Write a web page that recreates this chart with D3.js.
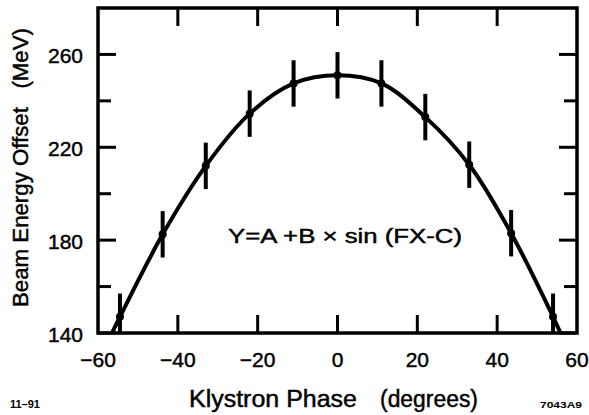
<!DOCTYPE html>
<html><head><meta charset="utf-8">
<script src="https://cdn.jsdelivr.net/npm/d3@7"></script>
<style>body{margin:0;background:#fff}svg{display:block}text{font-family:"Liberation Sans",Arial,Helvetica,sans-serif;fill:#000;stroke:#000;stroke-width:0.45px}</style>
</head><body><svg id="c" width="589" height="415"></svg>
<script>
// Data
const phase = [-54.5, -43.8, -33, -22, -11, 0, 11, 22, 33, 43.5, 54];
const energy = [147, 182.5, 212, 234.5, 247.5, 251, 247.5, 233, 212.5, 183, 147];
const errHalf = [10, 10, 10, 10, 10, 10, 10, 10, 10, 10, 10];
const curvePhase = [-56.5, -54.5, -43.8, -33, -22, -11, 0, 11, 22, 33, 43.5, 54, 56];
const curveEnergy = [140, 147, 182.5, 212, 234.5, 247.5, 251, 247.5, 233, 212.5, 183, 147, 139.5];
const xTicks = [-60, -40, -20, 0, 20, 40, 60];
const yMajor = [140, 180, 220, 260];
const yMinor = [160, 200, 240];
const formulaLabel = "Y=A +B \u00d7 sin (FX-C)";
const xTitleA = "Klystron Phase";
const xTitleB = "(degrees)";
const yTitle = "Beam Energy Offset\u00a0\u00a0\u00a0(MeV)";

const svg = d3.select("#c");
const L = 98, R = 577, T = 8, B = 333;
const x = d3.scaleLinear().domain([-60, 60]).range([L, R]);
const y = d3.scaleLinear().domain([140, 280]).range([B, T]);

svg.append("defs").append("clipPath").attr("id","clip")
  .append("rect").attr("x",L).attr("y",T).attr("width",R-L).attr("height",B-T);

const g = svg.append("g");
const tk = g.append("g").attr("stroke","#000").attr("stroke-width",3);
xTicks.slice(1,-1).forEach(v=>{
  tk.append("line").attr("x1",x(v)).attr("x2",x(v)).attr("y1",B).attr("y2",B-18);
  tk.append("line").attr("x1",x(v)).attr("x2",x(v)).attr("y1",T).attr("y2",T+18);
});
yMajor.concat(yMinor).forEach(v=>{
  const len = yMajor.includes(v) ? 18 : 13;
  tk.append("line").attr("x1",L).attr("x2",L+len).attr("y1",y(v)).attr("y2",y(v));
  tk.append("line").attr("x1",R).attr("x2",R-len).attr("y1",y(v)).attr("y2",y(v));
});

xTicks.forEach(v=>{
  g.append("text").attr("x",x(v)).attr("y",367).attr("text-anchor","middle")
   .attr("font-size",21).text(v<0 ? "\u2212"+Math.abs(v) : String(v));
});
yMajor.forEach(v=>{
  g.append("text").attr("x",83).attr("y",y(v)+9).attr("text-anchor","end")
   .attr("font-size",21).text(String(v));
});

const plot = svg.append("g").attr("clip-path","url(#clip)");
const line = d3.line().x(d=>x(d[0])).y(d=>y(d[1])).curve(d3.curveCatmullRom.alpha(0.5));
plot.append("path").datum(curvePhase.map((p,i)=>[p,curveEnergy[i]]))
  .attr("d",line).attr("fill","none").attr("stroke","#000").attr("stroke-width",4);

phase.forEach((p,i)=>{
  plot.append("line").attr("x1",x(p)).attr("x2",x(p))
    .attr("y1",y(energy[i]-errHalf[i])).attr("y2",y(energy[i]+errHalf[i]))
    .attr("stroke","#000").attr("stroke-width",4);
  plot.append("circle").attr("cx",x(p)).attr("cy",y(energy[i])).attr("r",4).attr("fill","#000");
});

svg.append("rect").attr("x",L).attr("y",T).attr("width",R-L).attr("height",B-T)
  .attr("fill","none").attr("stroke","#000").attr("stroke-width",3.5);

svg.append("text").attr("x",228).attr("y",243).attr("font-size",21)
  .attr("textLength",234).attr("lengthAdjust","spacingAndGlyphs").text(formulaLabel);
svg.append("text").attr("x",189).attr("y",407).attr("font-size",23)
  .attr("textLength",168).attr("lengthAdjust","spacingAndGlyphs").text(xTitleA);
svg.append("text").attr("x",380).attr("y",407).attr("font-size",23)
  .attr("textLength",98).attr("lengthAdjust","spacingAndGlyphs").text(xTitleB);
svg.append("text").attr("transform","translate(28,307) rotate(-90)").attr("font-size",22)
  .attr("textLength",279).attr("lengthAdjust","spacingAndGlyphs").text(yTitle);
svg.append("text").attr("x",10).attr("y",408).attr("font-size",10).attr("font-weight","bold")
  .attr("textLength",30).attr("lengthAdjust","spacingAndGlyphs").style("stroke-width","0").text("11\u201391");
svg.append("text").attr("x",540).attr("y",408).attr("font-size",9).attr("font-weight","bold")
  .attr("textLength",42).attr("lengthAdjust","spacingAndGlyphs").style("stroke-width","0").text("7043A9");
</script></body></html>
